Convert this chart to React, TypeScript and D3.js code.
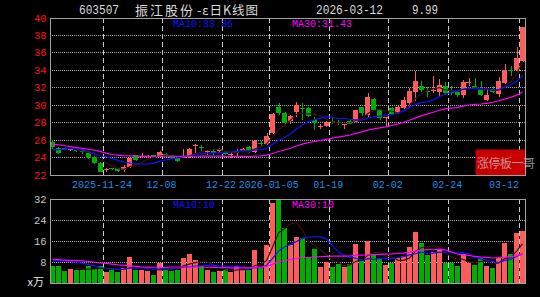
import React from "react";
import * as d3 from "d3";

const dates = [
  "2025-11-11","2025-11-12","2025-11-13","2025-11-14","2025-11-17","2025-11-18","2025-11-19","2025-11-20","2025-11-21",
  "2025-11-24","2025-11-25","2025-11-26","2025-11-27","2025-11-28",
  "2025-12-01","2025-12-02","2025-12-03","2025-12-04","2025-12-05",
  "2025-12-08","2025-12-09","2025-12-10","2025-12-11","2025-12-12",
  "2025-12-15","2025-12-16","2025-12-17","2025-12-18","2025-12-19",
  "2025-12-22","2025-12-23","2025-12-24","2025-12-25","2025-12-26",
  "2025-12-29","2025-12-30","2025-12-31",
  "2026-01-05","2026-01-06","2026-01-07","2026-01-08","2026-01-09",
  "2026-01-12","2026-01-13","2026-01-14","2026-01-15","2026-01-16",
  "2026-01-19","2026-01-20","2026-01-21","2026-01-22","2026-01-23",
  "2026-01-26","2026-01-27","2026-01-28","2026-01-29","2026-01-30",
  "2026-02-02","2026-02-03","2026-02-04","2026-02-05","2026-02-06",
  "2026-02-09","2026-02-10","2026-02-11","2026-02-12","2026-02-13",
  "2026-02-24","2026-02-25","2026-02-26","2026-02-27",
  "2026-03-02","2026-03-03","2026-03-04","2026-03-05","2026-03-06",
  "2026-03-09","2026-03-10","2026-03-11","2026-03-12",
];

const open = [
  25.8, 25.05, 25.05, 24.85, 24.85, 24.7, 24.5, 24.1, 23.35, 22.6,
  22.75, 22.75, 22.55, 22.95, 24.25, 24.1, 24.15, 24.25, 24.1, 24.45,
  24.25, 23.9, 24.0, 24.1, 25.35, 25.2, 24.6, 24.8, 24.7, 24.65,
  24.35, 24.5, 24.8, 25.2, 24.6, 25.7, 25.6, 26.8, 29.8, 29.1,
  28.15, 29.2, 29.7, 29.7, 28.35, 27.5, 27.65, 28.2, 28.1, 27.8,
  28.2, 28.1, 29.75, 28.9, 30.7, 29.55, 28.55, 29.7, 29.1, 29.65,
  30.2, 31.55, 32.15, 31.6, 31.7, 31.55, 32.2, 31.5, 31.55, 31.2,
  32.5, 32.15, 31.75, 30.65, 31.9, 31.3, 32.5, 34.05, 34.0, 35.1,
];
const high = [
  26.0, 25.2, 25.1, 25.0, 24.9, 24.9, 24.6, 24.2, 23.45, 22.85,
  22.85, 22.8, 23.1, 24.0, 24.35, 24.5, 24.3, 24.35, 24.7, 24.55,
  24.3, 24.0, 25.0, 25.1, 25.6, 25.4, 24.85, 24.9, 25.1, 24.7,
  24.6, 25.0, 25.1, 25.3, 26.0, 25.85, 26.8, 29.1, 30.3, 29.2,
  28.9, 30.4, 30.2, 29.8, 28.7, 27.85, 28.2, 28.5, 28.3, 27.9,
  28.3, 29.5, 29.85, 31.4, 30.8, 29.6, 28.7, 29.8, 29.95, 31.0,
  32.0, 33.95, 32.8, 32.1, 33.4, 32.95, 32.7, 32.2, 31.7, 32.85,
  33.15, 33.1, 32.8, 31.9, 32.2, 33.25, 34.7, 34.5, 36.7, 38.94,
];
const low = [
  25.0, 24.4, 24.9, 24.75, 24.6, 24.4, 23.85, 23.3, 22.35, 22.4,
  22.6, 22.35, 22.35, 22.8, 23.65, 23.9, 23.95, 24.0, 24.05, 24.2,
  23.85, 23.5, 23.9, 24.0, 24.5, 24.6, 24.3, 24.3, 24.5, 24.3,
  23.95, 24.1, 24.7, 24.5, 24.5, 25.25, 25.4, 26.7, 28.9, 27.7,
  27.9, 28.7, 28.3, 28.6, 27.2, 27.3, 27.5, 27.9, 27.7, 27.3,
  27.8, 28.0, 28.8, 28.7, 29.3, 28.3, 27.5, 28.9, 29.0, 29.5,
  29.8, 30.5, 31.5, 30.9, 31.35, 30.9, 31.2, 31.2, 30.9, 30.8,
  32.2, 31.95, 31.1, 30.45, 31.4, 31.0, 32.4, 33.3, 33.8, 35.0,
];
const close = [
  25.2, 24.5, 24.95, 24.95, 24.7, 24.65, 23.95, 23.35, 22.4, 22.7,
  22.68, 22.5, 22.95, 23.9, 23.75, 24.2, 24.2, 24.1, 24.6, 24.3,
  23.95, 23.6, 24.15, 24.95, 25.45, 25.1, 24.7, 24.55, 25.0, 24.4,
  24.45, 24.6, 25.0, 24.85, 25.9, 25.6, 26.5, 29.05, 29.1, 27.95,
  28.75, 30.0, 29.6, 28.75, 27.95, 27.65, 28.1, 28.1, 28.0, 27.85,
  27.9, 29.4, 29.1, 31.0, 29.5, 28.55, 28.65, 29.0, 29.85, 30.6,
  31.6, 32.78, 31.8, 31.5, 31.75, 32.3, 31.4, 31.45, 31.2, 32.65,
  32.7, 32.0, 31.15, 31.15, 31.55, 32.75, 34.0, 34.0, 35.4, 38.94,
];
// volume in 万
const volume = [
  6.5, 6.5, 4.6, 5.2, 5.0, 5.0, 6.5, 5.2, 6.5, 4.3,
  5.0, 4.3, 5.6, 9.8, 5.0, 5.0, 4.6, 3.05, 7.5, 5.97,
  4.7, 4.95, 9.4, 10.9, 8.76, 6.5, 4.95, 4.3, 4.6, 5.2,
  4.3, 6.5, 4.95, 4.95, 12.6, 5.97, 14.5, 30.6, 31.9, 20.8,
  14.5, 17.4, 17.0, 10.0, 12.8, 5.97, 8.1, 5.97, 7.2, 5.97,
  7.2, 14.9, 8.5, 16.0, 10.7, 9.2, 6.85, 7.5, 9.4, 10.3,
  13.6, 19.3, 15.1, 10.7, 11.9, 12.6, 7.6, 7.5, 6.5, 11.0,
  7.6, 6.85, 9.4, 6.5, 5.85, 9.4, 15.4, 11.0, 18.9, 19.9,
];

// moving averages at the start of the window (they depend on earlier days)
const ma10Head = [24.88, 24.92, 24.97, 25.02, 25.04, 24.9, 24.7, 24.45, 24.15];
const ma30Head = [
  25.5, 25.45, 25.35, 25.25, 25.15, 25.05, 24.95, 24.85, 24.7, 24.5,
  24.35, 24.28, 24.22, 24.2, 24.18, 24.17, 24.16, 24.15, 24.15, 24.15,
  24.15, 24.15, 24.15, 24.15, 24.15, 24.16, 24.16, 24.17, 24.17,
];
const volMa10Head = [8.4, 8.4, 8.4, 8.2, 7.9, 7.5, 7.1, 6.6, 6.0];
const volMa30Head = [
  9.0, 8.9, 8.75, 8.6, 8.5, 8.4, 8.2, 8.0, 7.7, 7.5,
  7.2, 6.9, 6.7, 6.5, 6.3, 6.1, 6.05, 6.0, 6.0, 6.0,
  6.1, 6.1, 6.1, 6.1, 6.0, 6.0, 6.0, 5.95, 5.9,
];

const priceTicks = [22, 24, 26, 28, 30, 32, 34, 36, 38, 40];
const priceGrid = [24, 26, 28, 30, 32, 34, 36, 38];
const volTicks = [8, 16, 24, 32];
const volGrid = [8, 16, 24];
const dateTicks = [
  ["2025-11-24", "2025-11-24"],
  ["2025-12-08", "12-08"],
  ["2025-12-22", "12-22"],
  ["2026-01-05", "2026-01-05"],
  ["2026-01-19", "01-19"],
  ["2026-02-02", "02-02"],
  ["2026-02-24", "02-24"],
  ["2026-03-12", "03-12"],
];

const headerCode = "603507";
const headerName = "振江股份";
const headerKind = "-ε日K线图";
const headerDate = "2026-03-12";
const headerChg = "9.99";
const priceMa10Label = "MA10:33.36";
const priceMa30Label = "MA30:31.43";
const volMa10Label = "MA10:10";
const volMa30Label = "MA30:10";
const volUnit = "x万";
const badgeText = "涨停板一哥";

const UP = "#ff5b5b";
const DOWN = "#00ae00";
const BLUE = "#1010ff";
const MAGENTA = "#ff00ff";
const DARK = "#3c1212";
const MONO = "'Liberation Mono', 'DejaVu Sans Mono', monospace";
const CJK = "'Noto Sans CJK SC', 'Noto Sans', sans-serif";

function movingAvg(values: number[], n: number, head?: number[]) {
  return values.map((_, i) => {
    if (i < n - 1) return head ? head[i] : null;
    return d3.mean(values.slice(i - n + 1, i + 1)) as number;
  });
}

export default function App() {
  const L = 50, R = 525;
  const pTop = 18, pBot = 175;
  const vTop = 199, vBot = 283;

  const x = d3.scaleBand<string>().domain(dates).range([49.5, 525.5]).paddingInner(0.16).paddingOuter(0.08);
  const bw = x.bandwidth();
  const step = x.step();
  const gx = (d: string) => (x(d) as number) - step * 0.08;
  const cx = (d: string) => (x(d) as number) + bw / 2;

  const yP = d3.scaleLinear().domain([22, 40]).range([pBot, pTop]);
  const yV = d3.scaleLinear().domain([0, 32]).range([vBot, vTop]);

  const ma5 = movingAvg(close, 5);
  const ma10 = movingAvg(close, 10, ma10Head);
  const ma30 = movingAvg(close, 30, ma30Head);
  const vma5 = movingAvg(volume, 5);
  const vma10 = movingAvg(volume, 10, volMa10Head);
  const vma30 = movingAvg(volume, 30, volMa30Head);

  const mkLine = (vals: (number | null)[], y: d3.ScaleLinear<number, number>) =>
    d3
      .line<number | null>()
      .defined((v) => v != null)
      .x((_, i) => cx(dates[i]))
      .y((v) => y(v as number))(vals) || "";

  const gridXs = dateTicks.map(([d]) => gx(d));

  return (
    <svg
      width={540}
      height={297}
      style={{ position: "fixed", left: 0, top: 0, display: "block" }}
      xmlns="http://www.w3.org/2000/svg"
    >
      <defs>
        <clipPath id="pclip">
          <rect x={L} y={pTop} width={R - L} height={pBot - pTop} />
        </clipPath>
        <clipPath id="vclip">
          <rect x={L} y={vTop} width={R - L} height={vBot - vTop} />
        </clipPath>
      </defs>
      <rect x={0} y={0} width={540} height={297} fill="#000" />

      {/* header */}
      <g fill="#dcdcdc">
        <text x={79} y={13.5} fontFamily={MONO} fontSize={12} textLength={40} lengthAdjust="spacingAndGlyphs">{headerCode}</text>
        <text x={135} y={15} fontFamily={CJK} fontSize={13} textLength={58} lengthAdjust="spacing">{headerName}</text>
        <text x={197} y={15} fontFamily={CJK} fontSize={12.5} textLength={61} lengthAdjust="spacing">{headerKind}</text>
        <text x={316} y={13.5} fontFamily={MONO} fontSize={12} textLength={67} lengthAdjust="spacingAndGlyphs">{headerDate}</text>
        <text x={412} y={13.5} fontFamily={MONO} fontSize={12} textLength={26} lengthAdjust="spacingAndGlyphs">{headerChg}</text>
      </g>

      {/* grids */}
      <g shapeRendering="crispEdges">
        {priceGrid.map((t) => (
          <line key={"pg" + t} x1={L} x2={R} y1={yP(t)} y2={yP(t)} stroke="#a8a8a8" strokeDasharray="1,1" />
        ))}
        {gridXs.map((gxv, i) => (
          <line key={"pv" + i} x1={gxv} x2={gxv} y1={pTop} y2={pBot} stroke="#c8c8c8" strokeDasharray="5,3" />
        ))}
        {volGrid.map((t) => (
          <line key={"vg" + t} x1={L} x2={R} y1={yV(t)} y2={yV(t)} stroke="#a8a8a8" strokeDasharray="1,1" />
        ))}
        {gridXs.map((gxv, i) => (
          <line key={"vv" + i} x1={gxv} x2={gxv} y1={vTop} y2={vBot} stroke="#c8c8c8" strokeDasharray="5,3" />
        ))}
      </g>

      {/* badge */}
      <rect x={475.5} y={149.5} width={49.5} height={25.5} fill="#c80000" />

      {/* candles */}
      <g clipPath="url(#pclip)" shapeRendering="crispEdges">
        {dates.map((d, i) => {
          const o = open[i], c = close[i], h = high[i], l = low[i];
          const col = c >= o ? UP : DOWN;
          const top = yP(Math.max(o, c));
          const hgt = Math.max(1, Math.abs(yP(o) - yP(c)));
          const xc = Math.round(cx(d)) + 0.5;
          return (
            <g key={"c" + d}>
              <line x1={xc} x2={xc} y1={yP(h)} y2={yP(l)} stroke={col} />
              <rect x={x(d)} y={top} width={bw} height={hgt} fill={col} />
            </g>
          );
        })}
      </g>
      <g clipPath="url(#pclip)" fill="none" strokeWidth={1.2}>
        <path d={mkLine(ma5, yP)} stroke={DARK} />
        <path d={mkLine(ma10, yP)} stroke={BLUE} />
        <path d={mkLine(ma30, yP)} stroke={MAGENTA} />
      </g>

      {/* volume bars */}
      <g clipPath="url(#vclip)" shapeRendering="crispEdges">
        {dates.map((d, i) => (
          <rect
            key={"v" + d}
            x={x(d)}
            y={yV(volume[i])}
            width={bw}
            height={vBot - yV(volume[i])}
            fill={close[i] >= open[i] ? UP : DOWN}
          />
        ))}
      </g>
      <g clipPath="url(#vclip)" fill="none" strokeWidth={1.2}>
        <path d={mkLine(vma5, yV)} stroke={DARK} />
        <path d={mkLine(vma10, yV)} stroke={BLUE} />
        <path d={mkLine(vma30, yV)} stroke={MAGENTA} />
      </g>

      {/* frames */}
      <g fill="none" stroke="#a0a0a0" shapeRendering="crispEdges">
        <rect x={L} y={pTop} width={R - L} height={pBot - pTop} />
        <rect x={L} y={vTop} width={R - L} height={vBot - vTop} />
      </g>

      {/* badge text */}
      <text x={477} y={168} fontFamily={CJK} fontSize={12} fill="rgba(205,205,205,0.72)" textLength={58} lengthAdjust="spacing">
        {badgeText}
      </text>

      {/* price axis labels */}
      <g fontFamily={MONO} fontSize={10.5} fill="#ff1010" textAnchor="end">
        {priceTicks.map((t) => (
          <text key={"pl" + t} x={46.5} y={yP(t) + 3.5}>{t}</text>
        ))}
      </g>
      {/* volume axis labels */}
      <g fontFamily={MONO} fontSize={10.5} fill="#c8c8c8" textAnchor="end">
        {volTicks.map((t) => (
          <text key={"vl" + t} x={46.5} y={yV(t) + 3.5}>{t}</text>
        ))}
        <text x={44} y={286} fontFamily={CJK} fontSize={11} fill="#e6e6e6">{volUnit}</text>
      </g>

      {/* date labels */}
      <g fontFamily={MONO} fontSize={10} fill="#1e8ee0">
        {dateTicks.map(([d, lab], i) => {
          const g = gx(d);
          const w = lab.length * 6;
          let xm = g - 1;
          if (xm + w / 2 > 519) xm = 519 - w / 2;
          return (
            <text key={"dl" + i} x={xm} y={188} textAnchor="middle">{lab}</text>
          );
        })}
      </g>

      {/* MA labels */}
      <g fontFamily={MONO} fontSize={10}>
        <text x={173} y={26.5} fill={BLUE}>{priceMa10Label}</text>
        <text x={292} y={26.5} fill={MAGENTA}>{priceMa30Label}</text>
        <text x={173} y={208} fill={BLUE}>{volMa10Label}</text>
        <text x={292} y={208} fill={MAGENTA}>{volMa30Label}</text>
      </g>
    </svg>
  );
}
